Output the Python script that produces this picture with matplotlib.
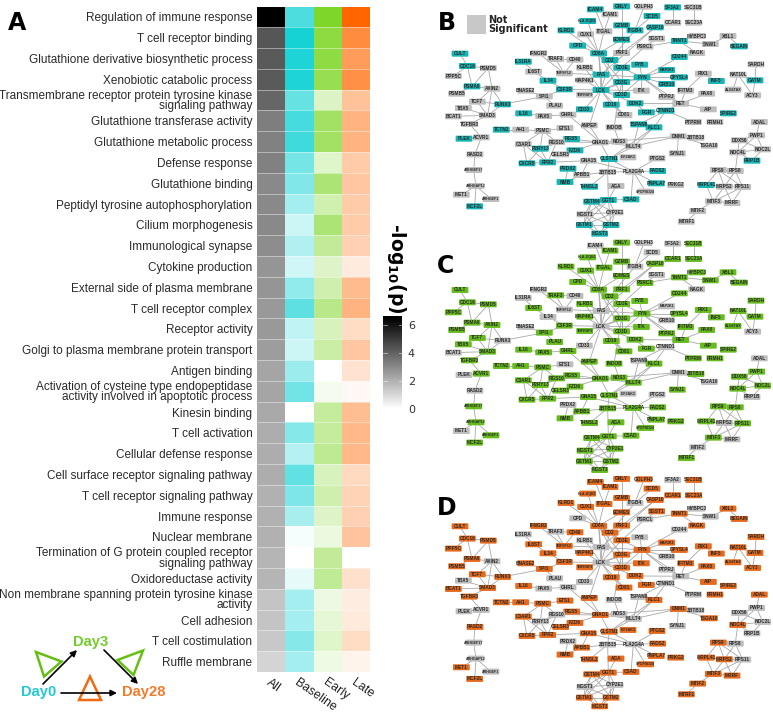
import matplotlib
matplotlib.use("Agg")
import matplotlib.pyplot as plt
import numpy as np
from matplotlib.colors import LinearSegmentedColormap
from matplotlib.patches import FancyBboxPatch, Polygon

W, H = 773, 713

terms = [
    "Regulation of immune response", "T cell receptor binding",
    "Glutathione derivative biosynthetic process", "Xenobiotic catabolic process",
    "Transmembrane receptor protein tyrosine kinase\nsignaling pathway",
    "Glutathione transferase activity", "Glutathione metabolic process",
    "Defense response", "Glutathione binding", "Peptidyl tyrosine autophosphorylation",
    "Cilium morphogenesis", "Immunological synapse", "Cytokine production",
    "External side of plasma membrane", "T cell receptor complex", "Receptor activity",
    "Golgi to plasma membrane protein transport", "Antigen binding",
    "Activation of cysteine type endopeptidase\nactivity involved in apoptotic process",
    "Kinesin binding", "T cell activation", "Cellular defense response",
    "Cell surface receptor signaling pathway", "T cell receptor signaling pathway",
    "Immune response", "Nuclear membrane",
    "Termination of G protein coupled receptor\nsignaling pathway",
    "Oxidoreductase activity",
    "Non membrane spanning protein tyrosine kinase\nactivity",
    "Cell adhesion", "T cell costimulation", "Ruffle membrane",
]
columns = ["All", "Baseline", "Early", "Late"]

# -log10(p)
all_vals = [6.5, 4.3, 4.2, 4.2, 3.9, 3.3, 3.2, 3.2, 3.0, 3.0, 3.0, 2.9, 2.7, 2.7, 2.6, 2.6,
            2.5, 2.3, 2.3, 2.2, 2.1, 2.1, 2.1, 2.0, 2.0, 2.0, 1.9, 1.9, 1.5, 1.5, 1.4, 1.1]
baseline_vals = [4.5, 5.9, 5.7, 5.7, 3.9, 4.7, 4.9, 3.5, 3.2, 2.3, 1.3, 2.0, 1.2, 2.8, 4.1, 1.6,
                 1.3, 2.5, 3.6, 0.0, 3.1, 1.9, 4.0, 3.3, 2.2, 0.25, 0.0, 0.65, 2.3, 2.3, 3.1, 2.3]
early_vals = [6.5, 5.8, 5.7, 5.3, 1.8, 4.7, 4.7, 1.6, 4.2, 2.4, 4.2, 3.1, 1.7, 2.5, 3.6, 2.0,
              2.7, 0.0, 0.5, 3.0, 3.0, 3.3, 2.0, 2.5, 1.7, 1.0, 3.1, 3.2, 0.9, 1.3, 1.6, 0.8]
late_vals = [6.5, 4.9, 4.2, 4.7, 2.6, 3.2, 3.2, 2.2, 2.4, 2.2, 2.2, 2.0, 0.85, 2.9, 3.2, 1.5,
             2.4, 1.2, 0.3, 2.8, 3.0, 3.0, 1.6, 1.9, 2.0, 2.5, 0.0, 1.3, 0.8, 0.9, 1.5, 0.5]
column_vals = [all_vals, baseline_vals, early_vals, late_vals]
column_colors = ["#000000", "#00CED1", "#7FD62A", "#FF6600"]

cbar_ticks = [0, 2, 4, 6]

# network layout, in units of 1/3 pixel, as read on panel B
node_names = [
    "ICAM4", "GNLY", "GOLPH3", "SF3A2", "SEC31B", "ICAM1", "SCD5", "HLA-DQB1", "CCAR1", "SEC23A",
    "GZMB", "CASP10", "CUX1", "ITGAL", "ITGB4", "KLRD1", "EOMES", "SGST1", "MYBPC3", "XBL1",
    "TNNT1", "SNW1", "BEGAIN", "CPD", "PSRC1", "CD8A", "PRF1", "NAGK", "CD2", "IFNGR2",
    "TRAF3", "CD40", "CD244", "CULT", "IL31RA", "CD3E", "FYB", "KLRB1", "CDC16", "PSMD5",
    "PPP5C", "IL6ST", "TNFSF12", "MAP2K1", "SARDH", "RIX1", "NAT10L", "FAS", "FYN", "DPYSL4",
    "IL34", "MAP4K1", "CD3G", "INF5", "GATM", "GRB10", "IFITM3", "CSF3R", "PSMA6", "AXIN2",
    "LCK", "BNASE2", "ALG6TAX", "ITK", "PAX8", "ACY3", "PSMB5", "TNFRSF9", "CD3D", "SPI1",
    "PTPRJ", "TCF7", "RET", "RUNX3", "DOK2", "CD19", "PLAU", "TBX5", "CD33", "CTNND1",
    "FGR", "AIP", "SPIRE2", "IL16", "PAX5", "GHRL", "CD81", "BCAT1", "SMAD3", "TGFBR3",
    "TSPAN9", "PTPRM", "FRMH1", "ADAL", "ANPEP", "ETS1", "INDOB", "KLC1", "TCTN2", "AH1",
    "PSMC", "PLEK", "ACVR1", "RGS5", "C3AR1", "RGS10", "GNAO1", "NOS3", "DNM1", "ZBTB18",
    "PWP1", "DDX56", "NOC2L", "NOC4L", "TSGA10", "MLLT4", "P2RY13", "FZD6", "CELSR3", "RASD2",
    "CXCR5", "FPR2", "GNA15", "CLSTN1", "EIF2AK3", "PTGS2", "SYNJ1", "RRP1B", "PRDX2", "FADS2",
    "ZBTB15", "PLA2G4A", "RPS9", "RPS8", "ARHGEF17", "APBB1", "NMB", "PNPLA7", "PRKG2", "MRPL41",
    "MRPS2", "RPS11", "THNSL2", "AGA", "ARHGAP12", "MET1", "ARHGEF1", "MCF2L", "MTIF3", "MRRF",
    "GSTM4", "GGT1", "CSAD", "SPOPSD24", "MTIF2", "MGST1", "CYP2E1", "MTRF1", "GSTM1", "GSTM2",
    "MGST3",
]
node_x = [
    466, 545, 612, 698, 761, 510, 636, 443, 698, 761,
    545, 646, 437, 492, 585, 378, 545, 650, 771, 864,
    718, 811, 898, 413, 615, 476, 545, 770, 510, 296,
    347, 405, 718, 60, 250, 545, 599, 434, 82, 145,
    40, 281, 373, 680, 948, 790, 894, 483, 606, 718,
    324, 434, 545, 829, 945, 680, 737, 373, 96, 156,
    483, 257, 879, 604, 800, 938, 50, 434, 545, 313,
    680, 112, 722, 188, 585, 514, 344, 70, 433, 678,
    619, 805, 865, 251, 311, 384, 552, 40, 143, 88,
    596, 760, 825, 958, 448, 375, 522, 642, 184, 242,
    308, 72, 124, 395, 250, 350, 481, 537, 715, 768,
    950, 898, 968, 893, 808, 580, 301, 405, 362, 105,
    261, 323, 445, 508, 564, 651, 712, 936, 384, 653,
    503, 580, 835, 886, 101, 425, 375, 649, 707, 799,
    853, 908, 449, 528, 108, 64, 153, 104, 820, 876,
    455, 505, 573, 617, 773, 435, 525, 739, 433, 513,
    479,
]
node_y = [
    28, 19, 20, 22, 22, 43, 48, 63, 68, 68,
    76, 82, 103, 94, 91, 91, 119, 116, 108, 108,
    123, 132, 139, 137, 140, 160, 159, 159, 180, 160,
    177, 179, 171, 161, 185, 203, 194, 203, 198, 204,
    228, 215, 220, 210, 193, 221, 224, 224, 232, 232,
    242, 241, 246, 243, 241, 252, 272, 268, 259, 266,
    270, 272, 269, 272, 281, 286, 281, 284, 285, 289,
    291, 305, 311, 313, 310, 314, 317, 324, 328, 332,
    337, 328, 340, 340, 348, 344, 345, 349, 346, 372,
    373, 366, 366, 366, 376, 384, 382, 382, 389, 389,
    393, 416, 412, 417, 432, 426, 427, 424, 409, 413,
    406, 421, 448, 457, 437, 439, 446, 451, 463, 463,
    490, 487, 482, 477, 472, 475, 460, 482, 506, 513,
    516, 515, 510, 513, 510, 525, 546, 550, 555, 555,
    560, 561, 560, 558, 558, 584, 597, 619, 604, 609,
    605, 600, 598, 575, 633, 643, 637, 665, 675, 675,
    701,
]

edges = """ICAM4-ITGAL ICAM1-ITGAL HLA-DQB1-CD8A KLRD1-CD8A CUX1-CD8A ITGAL-CD8A GNLY-GZMB
GOLPH3-ITGB4 SF3A2-CCAR1 SEC31B-SEC23A SCD5-ITGB4 ITGB4-CD2 GZMB-PRF1 GZMB-EOMES EOMES-PRF1
EOMES-CD8A CASP10-PRF1 CASP10-FAS CPD-CD8A SGST1-PSRC1 PSRC1-CD3E CD8A-CD2 CD8A-CD3E CD8A-LCK
CD8A-FAS CD8A-CD3G CD8A-CD3D CD2-CD3E CD2-LCK CD3E-CD3G CD3E-CD3D CD3G-CD3D CD3E-LCK CD3G-LCK
CD3D-LCK LCK-FYN CD3E-FYN CD3G-FYN CD3D-FYN FYN-FYB FYN-ITK FYN-MAP2K1 FYN-DPYSL4 FYN-GRB10
FYN-CD244 FYN-RET FYN-PTPRJ FYN-FAS FAS-LCK FAS-TNFSF12 FAS-KLRB1 TRAF3-TNFSF12 CD40-TNFSF12
TRAF3-CD40 IFNGR2-TNFSF12 KLRB1-LCK MAP4K1-LCK TNFRSF9-LCK IL34-CSF3R CSF3R-LCK IL31RA-IL6ST
IL6ST-IL34 BNASE2-SPI1 SPI1-CSF3R SPI1-RUNX3 SPI1-PLAU CD19-LCK CD19-CD81 CD33-LCK CD81-LCK
DOK2-LCK DOK2-RET DOK2-FGR ITK-LCK FGR-CTNND1 RET-PTPRJ RET-PAX8 RET-IFITM3 RET-AIP RET-CTNND1
CTNND1-PTPRM CTNND1-TSPAN9 CTNND1-KLC1 TNNT1-MYBPC3 TNNT1-SNW1 TNNT1-NAGK TNNT1-PSRC1 SNW1-XBL1
XBL1-BEGAIN SARDH-GATM NAT10L-GATM NAT10L-ALG6TAX NAT10L-ACY3 GATM-ACY3 RIX1-IFITM3 RIX1-INF5
CULT-CDC16 CDC16-PSMD5 CDC16-PSMA6 PSMD5-PSMA6 PPP5C-CDC16 PSMA6-PSMB5 PSMA6-AXIN2 AXIN2-PSMD5
AXIN2-RUNX3 AXIN2-SMAD3 TCF7-AXIN2 TCF7-SMAD3 TCF7-RUNX3 TBX5-SMAD3 BCAT1-SMAD3 SMAD3-TGFBR3
RUNX3-SMAD3 TGFBR3-ACVR1 ACVR1-PLEK ACVR1-RASD2 RASD2-ARHGEF17 ARHGEF17-ARHGAP12 ARHGAP12-MET1
ARHGAP12-ARHGEF1 ARHGAP12-MCF2L IL16-PAX5 PAX5-GHRL GHRL-GNAO1 ANPEP-GNAO1 ETS1-PSMC TCTN2-AH1
AH1-PSMC PSMC-C3AR1 PSMC-P2RY13 PSMC-RGS10 C3AR1-P2RY13 C3AR1-FPR2 C3AR1-CXCR5 P2RY13-CXCR5
P2RY13-FPR2 P2RY13-RGS10 RGS10-GNAO1 RGS5-GNAO1 RGS5-P2RY13 RGS10-FPR2 CXCR5-FPR2 FZD6-GNAO1
CELSR3-FZD6 FPR2-GNA15 GNA15-PLA2G4A GNAO1-NOS3 GNAO1-MLLT4 GNAO1-DNM1 GNAO1-CLSTN1 NOS3-MLLT4
NOS3-INDOB MLLT4-CLSTN1 KLC1-MLLT4 TSPAN9-MLLT4 KLC1-CLSTN1 DNM1-ZBTB18 DNM1-SYNJ1 DNM1-MLLT4
DNM1-TSGA10 INDOB-CD3G ANPEP-LCK CLSTN1-ZBTB15 CLSTN1-PLA2G4A PTGS2-PLA2G4A FADS2-PLA2G4A
PNPLA7-PLA2G4A SPOPSD24-PLA2G4A PLA2G4A-ZBTB15 PLA2G4A-CSAD ZBTB15-APBB1 ZBTB15-THNSL2
ZBTB15-GGT1 PRDX2-NMB PRDX2-APBB1 NMB-APBB1 GNA15-APBB1 AGA-GGT1 GGT1-GSTM4 GGT1-CSAD GGT1-MGST1
GGT1-CYP2E1 GGT1-GSTM1 GGT1-GSTM2 GSTM4-MGST1 GSTM4-CYP2E1 GSTM4-GSTM1 GSTM4-GSTM2 MGST1-CYP2E1
MGST1-GSTM1 MGST1-GSTM2 MGST1-MGST3 CYP2E1-GSTM1 CYP2E1-GSTM2 GSTM1-GSTM2 GSTM1-MGST3
GSTM2-MGST3 CYP2E1-MGST3 PWP1-DDX56 PWP1-NOC2L PWP1-NOC4L DDX56-NOC4L DDX56-NOC2L NOC4L-NOC2L
PWP1-ADAL NOC4L-RRP1B NOC2L-RRP1B NOC4L-RPS8 RPS9-RPS8 RPS9-MRPS2 RPS9-RPS11 RPS9-MRPL41
RPS8-MRPS2 RPS8-RPS11 MRPL41-MRPS2 MRPS2-RPS11 MRPS2-MTIF3 MRPS2-MRRF RPS11-MTIF3 RPS11-MRRF
MRPL41-MTIF3 MTIF3-MRRF MTIF3-MTIF2 MTIF2-MTRF1"""

# nodes that are not significant in each panel
gray_b = """GOLPH3 SEC31B ICAM1 CCAR1 SEC23A CUX1 ITGAL SGST1 MYBPC3 XBL1 SNW1 PSRC1 PRF1 NAGK IFNGR2
TRAF3 CD40 KLRB1 PSMD5 PPP5C IL6ST TNFSF12 SARDH RIX1 NAT10L MAP4K1 IFITM3 AXIN2 BNASE2 ALG6TAX
ITK PAX8 ACY3 PSMB5 TNFRSF9 SPI1 PTPRJ TCF7 RET PLAU TBX5 AIP PAX5 GHRL CD81 BCAT1 SMAD3 TGFBR3
PTPRM FRMH1 ADAL ANPEP ETS1 INDOB AH1 PSMC ACVR1 C3AR1 RGS10 GNAO1 NOS3 DNM1 ZBTB18 PWP1 DDX56
NOC2L NOC4L TSGA10 MLLT4 CELSR3 RASD2 GNA15 EIF2AK3 PTGS2 SYNJ1 ZBTB15 PLA2G4A RPS9 RPS8 ARHGEF17
APBB1 PRKG2 MRPS2 RPS11 AGA ARHGAP12 MET1 ARHGEF1 MTIF3 MRRF SPOPSD24 MTIF2 MGST1 CYP2E1 MTRF1"""
gray_c = """ICAM4 GOLPH3 SF3A2 SCD5 ITGB4 SGST1 IFNGR2 CD40 IL31RA TNFSF12 FAS LCK IL34 BNASE2 MAP2K1
GRB10 NAGK RUNX3 BCAT1 CD33 CTNND1 ACY3 ADAL RASD2 PLEK MET1 ETS1 DNM1 TSGA10 EIF2AK3 PTGS2
PRDX2 RRP1B MRPS2 MRRF MTIF2 TSPAN9"""
gray_d = """SF3A2 ITGB4 CPD PSRC1 FYB MYBPC3 SNW1 CD244 AXIN2 IL31RA TRAF3 KLRB1 FAS LCK GRB10 TBX5
PLAU PAX5 GHRL CD33 PTPRJ RET CTNND1 PTPRM TSPAN9 INDOB PLEK ACVR1 P2RY13 RGS10 NOS3 MLLT4 SYNJ1
ZBTB18 PWP1 DDX56 NOC2L RRP1B RPS8 RPS11 ARHGEF17 ARHGAP12 ARHGEF1 PRDX2 ZBTB15 PLA2G4A MGST1
CYP2E1"""

SMALL_NODES = {"ALG6TAX", "TNFRSF9", "EIF2AK3", "ARHGEF17", "ARHGAP12", "ARHGEF1", "SPOPSD24",
               "HLA-DQB1", "TNFSF12", "MAP2K1"}


def px_axes(fig, left, top, right, bottom):
    return fig.add_axes([left / W, 1 - bottom / H, (right - left) / W, (bottom - top) / H])


def draw_heatmap(fig):
    ax = px_axes(fig, 257.3, 6.5, 370, 672)
    n = len(terms)
    for k, (vals, col) in enumerate(zip(column_vals, column_colors)):
        cmap = LinearSegmentedColormap.from_list(columns[k], ["#FFFFFF", col])
        grid = np.array(vals).reshape(-1, 1)
        ax.pcolormesh([k, k + 1], np.arange(n + 1), grid, cmap=cmap, vmin=0, vmax=6.5)
    ax.hlines(np.arange(1, n), 0, 4, color="white", lw=0.5, alpha=0.6)
    ax.set_xlim(0, 4)
    ax.set_ylim(n, 0)
    for s in ax.spines.values():
        s.set_visible(False)
    ax.set_xticks([])
    ax.set_yticks(np.arange(n) + 0.5)
    ax.set_yticklabels(terms, fontsize=8.45, family="Liberation Sans", color="#2A2A2A",
                       linespacing=0.86)
    ax.tick_params(axis="y", length=0, pad=3.6)
    for k, name in enumerate(columns):
        ax.annotate(name, (k + 0.5, n), xytext=(0, -3), textcoords="offset points", rotation=-35,
                    rotation_mode="anchor", ha="left", va="top", fontsize=8.9,
                    family="Liberation Sans", color="#222222", annotation_clip=False)


def draw_colorbar(fig):
    ax = px_axes(fig, 383.3, 315.7, 402.3, 409.3)
    cmap = LinearSegmentedColormap.from_list("grays", ["#FFFFFF", "#000000"])
    top = 6.67
    ax.imshow(np.linspace(top, 0, 200).reshape(-1, 1), aspect="auto", cmap=cmap, vmin=0, vmax=6.5,
              extent=[0, 1, 0, top])
    for s in ax.spines.values():
        s.set_visible(False)
    ax.set_xticks([])
    ax.set_yticks(cbar_ticks)
    ax.yaxis.tick_right()
    ax.tick_params(axis="y", length=0, pad=4, labelsize=8, labelcolor="#333333")
    for v in cbar_ticks[1:]:
        ax.plot([0, 0.2], [v, v], color="white", lw=0.5, alpha=0.7)
        ax.plot([0.8, 1], [v, v], color="white", lw=0.5, alpha=0.7)
    ax.set_xlim(0, 1)
    ax.set_ylim(0, top)
    fig.text(396 / W, 1 - 268 / H, r"-log$_{\mathbf{10}}$(p)", rotation=-90, ha="center", va="center",
             fontsize=13.5, fontweight="bold", color="black",
             math_fontfamily="dejavusans")


def draw_network(ax, y_shift, fill, grays):
    pos = {}
    for name, x, y in zip(node_names, node_x, node_y):
        pos[name] = (440 + x / 3, y / 3 + y_shift)
    for e in edges.split():
        a, b = e.split("-") if e.count("-") == 1 else ("HLA-DQB1", e.split("-")[-1])
        ax.plot([pos[a][0], pos[b][0]], [pos[a][1], pos[b][1]], color="#A8A8A8", lw=0.6, zorder=1)
    gray_set = set(grays.split())
    for name in node_names:
        x, y = pos[name]
        c = "#BEBEBE" if name in gray_set else fill
        ax.add_patch(FancyBboxPatch((x - 7.5, y - 2.1), 15, 4.2, boxstyle="round,pad=0.9,rounding_size=1",
                                    fc=c, ec="none", zorder=2))
        ax.text(x, y, name, ha="center", va="center", fontsize=2.6 if name in SMALL_NODES else 3.4,
                family="Liberation Sans", fontweight="bold", color="#2A2A2A", zorder=3)


def draw_cycle(ax):
    font = dict(family="Liberation Sans", fontweight="bold", fontsize=10.6, ha="center", va="center")
    ax.text(38.3, 692, "Day0", color="#22C8D2", **font)
    ax.text(91, 642, "Day3", color="#74CC2C", **font)
    ax.text(143.5, 692, "Day28", color="#F47A2C", **font)
    arrow = dict(arrowstyle="-|>", color="black", lw=1.2, mutation_scale=9, shrinkA=0, shrinkB=0)
    ax.annotate("", xy=(77, 650), xytext=(43, 684), arrowprops=arrow)
    ax.annotate("", xy=(138, 684), xytext=(104, 650), arrowprops=arrow)
    ax.annotate("", xy=(117, 693), xytext=(61, 693), arrowprops=arrow)
    ax.add_patch(Polygon([(36, 652), (61.5, 661.5), (44, 676.5)], fill=False, ec="#66BE14", lw=1.8))
    ax.add_patch(Polygon([(143, 650.5), (117.5, 660), (133.5, 675)], fill=False, ec="#66BE14", lw=1.8))
    ax.add_patch(Polygon([(90, 676.5), (79, 700), (101, 700)], fill=False, ec="#F06A14", lw=1.8))


fig = plt.figure(figsize=(W / 100, H / 100), dpi=100)
draw_heatmap(fig)
draw_colorbar(fig)

canvas = fig.add_axes([0, 0, 1, 1], zorder=5)
canvas.set_xlim(0, W)
canvas.set_ylim(H, 0)
canvas.axis("off")
canvas.patch.set_alpha(0)

draw_network(canvas, 0, "#19B4B4", gray_b)
draw_network(canvas, 236.3, "#66BC1E", gray_c)
draw_network(canvas, 472.6, "#E66A1E", gray_d)
draw_cycle(canvas)

canvas.add_patch(plt.Rectangle((466.7, 15), 19, 19.3, fc="#C8C8C8", ec="none"))
canvas.text(488, 20, "Not", fontsize=7, fontweight="bold", va="center", color="#222222")
canvas.text(488, 29.5, "Significant", fontsize=7, fontweight="bold", va="center", color="#222222")

for letter, x, y in [("A", 17, 23), ("B", 447, 23), ("C", 446, 266), ("D", 447, 508)]:
    canvas.text(x, y, letter, fontsize=17, fontweight="bold", ha="center", va="center", color="black")

fig.savefig("out.png", dpi=100)
